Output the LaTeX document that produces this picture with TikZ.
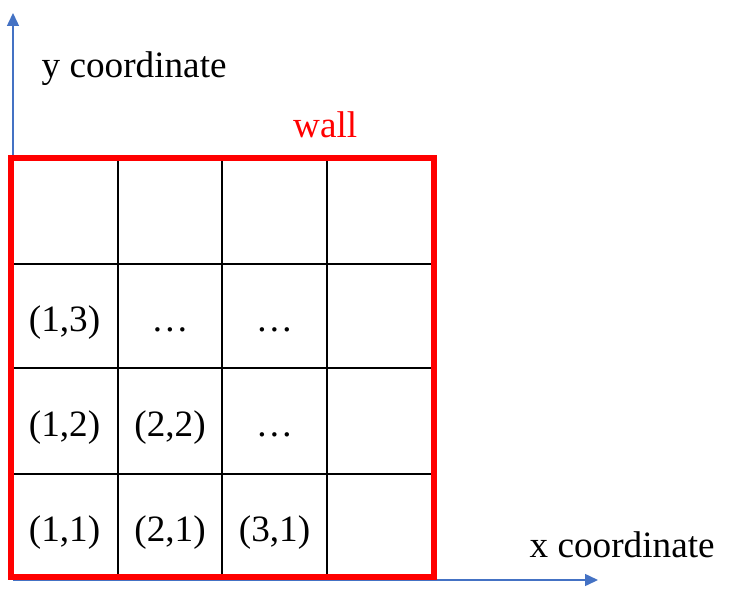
\documentclass[tikz,border=0pt]{standalone}
\usepackage{fontspec}
\setmainfont{Liberation Serif}
\usetikzlibrary{arrows.meta}
\definecolor{axisblue}{RGB}{68,114,196}
\definecolor{wallred}{RGB}{255,0,0}
\begin{document}
\begin{tikzpicture}[x=1pt,y=-1pt,
  lbl/.style={font=\fontsize{37.2}{40}\selectfont, inner sep=0pt, anchor=base west},
  cell/.style={font=\fontsize{37.2}{40}\selectfont, inner sep=0pt, anchor=base},
  axis/.style={draw=axisblue, line width=1.5pt, -{Triangle[length=13pt,width=12pt]}},
  gridline/.style={draw=black, line width=2pt},
  wall/.style={draw=wallred, line width=6pt, line join=miter}]
\path[use as bounding box] (0,0) rectangle (738,594);
% axes
\coordinate (O) at (13,580);
\coordinate (ytip) at (13,13);
\coordinate (xtip) at (598,580);
\draw[axis] (O) -- (ytip);
\draw[axis] (O) -- (xtip);
% grid
\foreach \x in {117.7,222.3,326.7} \draw[gridline] (\x,158) -- (\x,577);
\foreach \y in {263.5,368,474} \draw[gridline] (11,\y) -- (433.5,\y);
% wall
\coordinate (wallNW) at (11,158);
\coordinate (wallSE) at (433.5,577);
\draw[wall] (wallNW) rectangle (wallSE);
% labels
\node[lbl] (ylab) at (41.5,77.5) {y coordinate};
\node[lbl] (xlab) at (529.5,557.5) {x coordinate};
\node[lbl, text=wallred] (walllab) at (293,137) {wall};
% cell texts
\node[cell] (c13) at (64.5,331) {(1,3)};
\node[cell] (c23) at (170,331) {…};
\node[cell] (c33) at (274.5,331) {…};
\node[cell] (c12) at (64.5,436) {(1,2)};
\node[cell] (c22) at (170,436) {(2,2)};
\node[cell] (c32) at (274.5,436) {…};
\node[cell] (c11) at (64.5,541) {(1,1)};
\node[cell] (c21) at (170,541) {(2,1)};
\node[cell] (c31) at (274.5,541) {(3,1)};
\end{tikzpicture}
\end{document}
